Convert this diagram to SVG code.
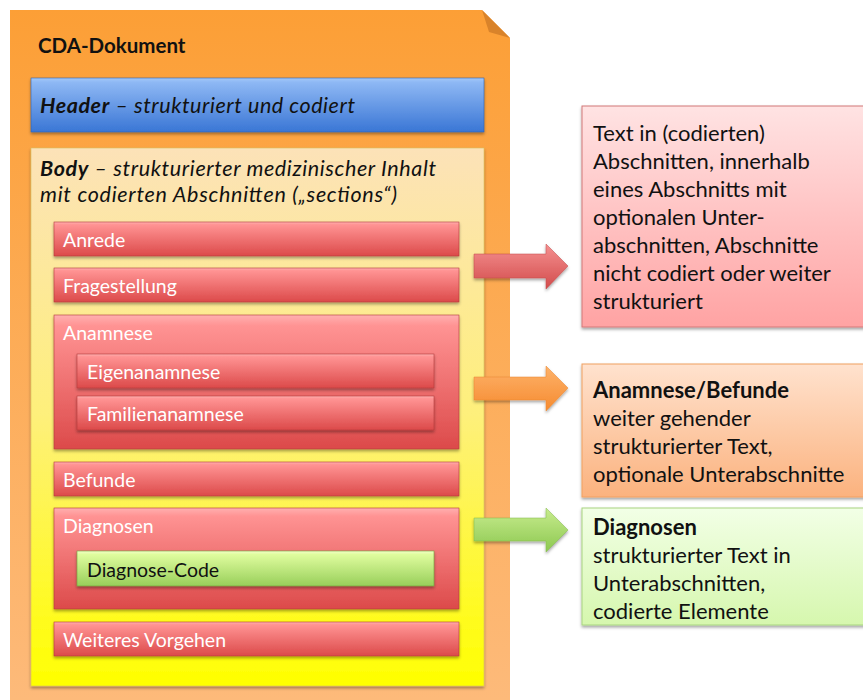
<svg xmlns="http://www.w3.org/2000/svg" width="863" height="700" viewBox="0 0 863 700">
<defs>
<linearGradient id="gDoc" x1="0" y1="0" x2="0" y2="1"><stop offset="0" stop-color="#FC9F36"/><stop offset="1" stop-color="#FDBA7A"/></linearGradient>
<linearGradient id="gBody" x1="0" y1="0" x2="0" y2="1"><stop offset="0" stop-color="#FCE2B8"/><stop offset="0.5" stop-color="#FEF07A"/><stop offset="1" stop-color="#FFFF00"/></linearGradient>
<linearGradient id="gHead" x1="0" y1="0" x2="0" y2="1"><stop offset="0" stop-color="#A3C8FA"/><stop offset="0.08" stop-color="#8EB8F4"/><stop offset="1" stop-color="#3A76D5"/></linearGradient>
<linearGradient id="gRed" x1="0" y1="0" x2="0" y2="1"><stop offset="0" stop-color="#FFB0B0"/><stop offset="0.08" stop-color="#FF9393"/><stop offset="1" stop-color="#DC4A4A"/></linearGradient>
<linearGradient id="gGreen" x1="0" y1="0" x2="0" y2="1"><stop offset="0" stop-color="#F2FFC8"/><stop offset="0.1" stop-color="#DFFC9E"/><stop offset="1" stop-color="#98CF5A"/></linearGradient>
<linearGradient id="gRBox" x1="0" y1="0" x2="0" y2="1"><stop offset="0" stop-color="#FFE3E3"/><stop offset="1" stop-color="#FFA3A3"/></linearGradient>
<linearGradient id="gOBox" x1="0" y1="0" x2="0" y2="1"><stop offset="0" stop-color="#FFE2CE"/><stop offset="1" stop-color="#FBB27E"/></linearGradient>
<linearGradient id="gGBox" x1="0" y1="0" x2="0" y2="1"><stop offset="0" stop-color="#F2FFE6"/><stop offset="1" stop-color="#D6F7AE"/></linearGradient>
<linearGradient id="gRArr" x1="0" y1="0" x2="0" y2="1"><stop offset="0" stop-color="#F59090"/><stop offset="1" stop-color="#D24C4C"/></linearGradient>
<linearGradient id="gOArr" x1="0" y1="0" x2="0" y2="1"><stop offset="0" stop-color="#FDB26A"/><stop offset="1" stop-color="#F68B30"/></linearGradient>
<linearGradient id="gGArr" x1="0" y1="0" x2="0" y2="1"><stop offset="0" stop-color="#C8EC8E"/><stop offset="1" stop-color="#8CC850"/></linearGradient>
<filter id="sh" x="-5%" y="-10%" width="110%" height="130%"><feDropShadow dx="0" dy="2" stdDeviation="1.5" flood-color="#000" flood-opacity="0.35"/></filter>
</defs>
<style>
text{font-family:Lato,"Open Sans","Liberation Sans",sans-serif}
.it{font-style:italic;font-size:21.5px;fill:#111}
.lbl{font-size:19.5px;fill:#fff}
.rt{font-size:22px;fill:#111}
.box{stroke:#B23A3A;stroke-width:0.6}
</style>
<rect width="863" height="700" fill="#fff"/>
<g id="cda-dokument">
<polygon points="10,10 482,10 510,38 510,700 10,700" fill="url(#gDoc)"/>
<polygon points="482,10 510,38 489,32" fill="#D9832A"/>
<text x="38" y="53" font-size="20.5" font-weight="bold" fill="#111">CDA-Dokument</text>
</g>
<g id="header">
<rect x="31" y="78" width="453" height="54" fill="url(#gHead)" stroke="#2F62B0" stroke-width="0.6" filter="url(#sh)"/>
<text class="it" x="40" y="113" textLength="315" lengthAdjust="spacing"><tspan font-weight="bold">Header</tspan> – strukturiert und codiert</text>
</g>
<g id="body">
<rect x="31" y="148" width="453" height="538" fill="url(#gBody)" stroke="#D8C060" stroke-width="0.6" filter="url(#sh)"/>
<text class="it" x="40" y="176" textLength="396" lengthAdjust="spacing"><tspan font-weight="bold">Body</tspan> – strukturierter medizinischer Inhalt</text>
<text class="it" x="40" y="202" textLength="357" lengthAdjust="spacing">mit codierten Abschnitten („sections“)</text>
</g>
<g id="anrede"><rect class="box" x="54" y="222" width="405" height="34" fill="url(#gRed)" filter="url(#sh)"/><text class="lbl" x="63" y="247">Anrede</text></g>
<g id="fragestellung"><rect class="box" x="54" y="268" width="405" height="34" fill="url(#gRed)" filter="url(#sh)"/><text class="lbl" x="63" y="293">Fragestellung</text></g>
<g id="anamnese"><rect class="box" x="54" y="315" width="405" height="134" fill="url(#gRed)" filter="url(#sh)"/><text class="lbl" x="63" y="340">Anamnese</text></g>
<g id="eigenanamnese"><rect class="box" x="77" y="354" width="357" height="34" fill="url(#gRed)" filter="url(#sh)"/><text class="lbl" x="87" y="379">Eigenanamnese</text></g>
<g id="familienanamnese"><rect class="box" x="77" y="396" width="357" height="34" fill="url(#gRed)" filter="url(#sh)"/><text class="lbl" x="87" y="421">Familienanamnese</text></g>
<g id="befunde"><rect class="box" x="54" y="462" width="405" height="34" fill="url(#gRed)" filter="url(#sh)"/><text class="lbl" x="63" y="487">Befunde</text></g>
<g id="diagnosen"><rect class="box" x="54" y="508" width="405" height="101" fill="url(#gRed)" filter="url(#sh)"/><text class="lbl" x="63" y="533">Diagnosen</text></g>
<g id="diagnose-code"><rect x="77" y="551" width="357" height="35" fill="url(#gGreen)" stroke="#6E9E3A" stroke-width="0.6" filter="url(#sh)"/><text x="87" y="577" font-size="19.5" fill="#111">Diagnose-Code</text></g>
<g id="weiteres-vorgehen"><rect class="box" x="54" y="622" width="405" height="34" fill="url(#gRed)" filter="url(#sh)"/><text class="lbl" x="63" y="647">Weiteres Vorgehen</text></g>
<g id="connectors">
<polygon points="474,254 546,254 546,244 568,266 546,289 546,278 474,278" fill="url(#gRArr)" stroke="#C04848" stroke-width="0.5" filter="url(#sh)"/>
<polygon points="474,377 546,377 546,366 568,388 546,411 546,400 474,400" fill="url(#gOArr)" stroke="#E8842C" stroke-width="0.5" filter="url(#sh)"/>
<polygon points="474,518 546,518 546,508 568,530 546,552 546,541 474,541" fill="url(#gGArr)" stroke="#80B848" stroke-width="0.5" filter="url(#sh)"/>
</g>
<g id="note-text">
<rect x="582" y="106" width="290" height="221" fill="url(#gRBox)" stroke="#D27878" stroke-width="1" filter="url(#sh)"/>
<text class="rt" x="593" y="141">Text in (codierten)</text>
<text class="rt" x="593" y="169">Abschnitten, innerhalb</text>
<text class="rt" x="593" y="197">eines Abschnitts mit</text>
<text class="rt" x="593" y="225">optionalen Unter-</text>
<text class="rt" x="593" y="253">abschnitten, Abschnitte</text>
<text class="rt" x="593" y="281">nicht codiert oder weiter</text>
<text class="rt" x="593" y="309">strukturiert</text>
</g>
<g id="note-anamnese">
<rect x="582" y="364" width="290" height="133" fill="url(#gOBox)" stroke="#F0A060" stroke-width="1" filter="url(#sh)"/>
<text class="rt" x="593" y="398" font-weight="bold">Anamnese/Befunde</text>
<text class="rt" x="593" y="426">weiter gehender</text>
<text class="rt" x="593" y="454">strukturierter Text,</text>
<text class="rt" x="593" y="482">optionale Unterabschnitte</text>
</g>
<g id="note-diagnosen">
<rect x="582" y="508" width="290" height="117" fill="url(#gGBox)" stroke="#A8D480" stroke-width="1" filter="url(#sh)"/>
<text class="rt" x="593" y="535" font-weight="bold">Diagnosen</text>
<text class="rt" x="593" y="563">strukturierter Text in</text>
<text class="rt" x="593" y="591">Unterabschnitten,</text>
<text class="rt" x="593" y="619">codierte Elemente</text>
</g>
</svg>
